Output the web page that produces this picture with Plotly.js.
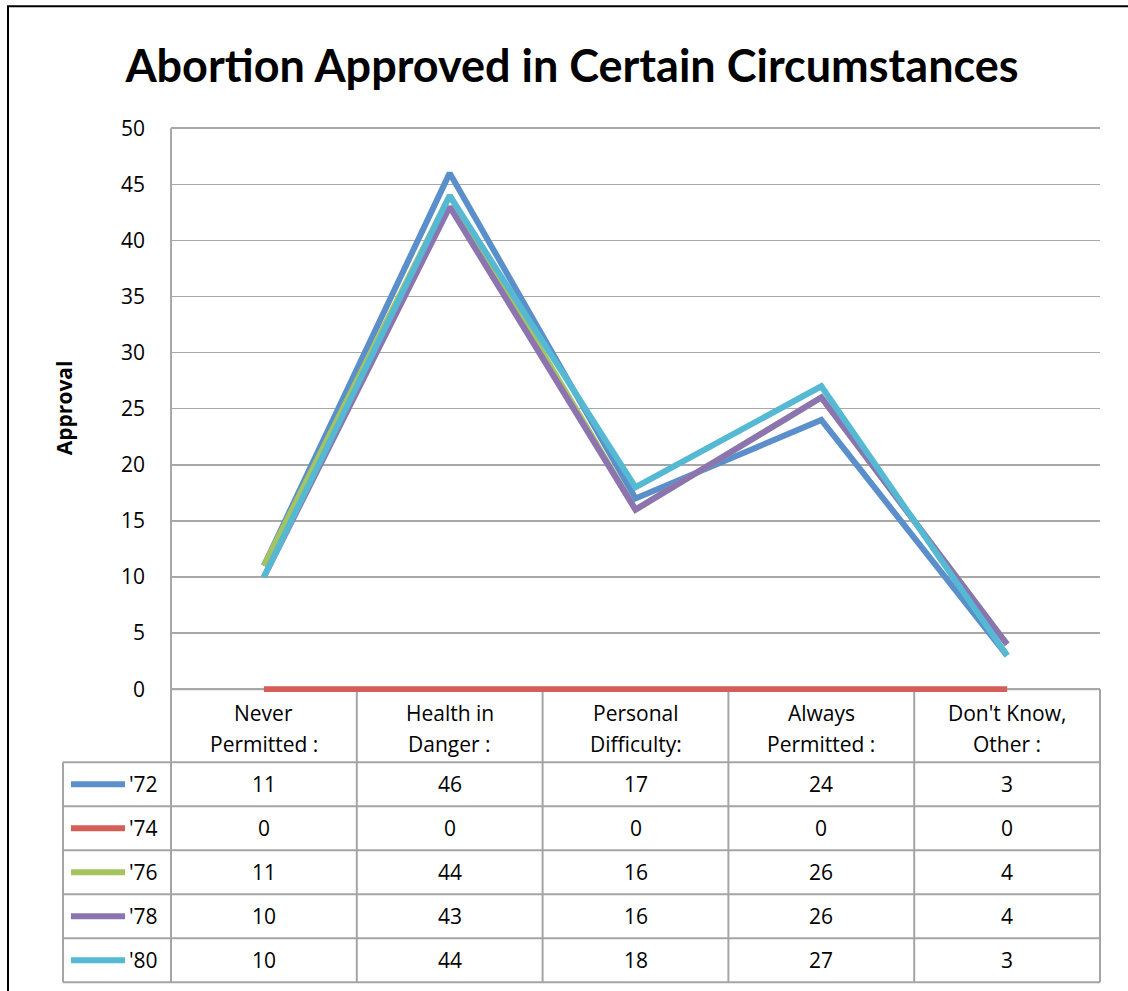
<!DOCTYPE html>
<html>
<head>
<meta charset="utf-8">
<script src="https://cdn.plot.ly/plotly-3.0.1.min.js"></script>
<style>html,body{margin:0;padding:0;background:#fff;}#chart{width:1128px;height:991px;}</style>
</head>
<body>
<div id="chart"></div>
<script>
// ---- data ----
const categories = ["Never Permitted :", "Health in Danger :", "Personal Difficulty:", "Always Permitted :", "Don't Know, Other :"];
const headerLines = [["Never", "Permitted :"], ["Health in", "Danger :"], ["Personal", "Difficulty:"], ["Always", "Permitted :"], ["Don't Know,", "Other :"]];
const seriesNames = ["'72", "'74", "'76", "'78", "'80"];
const y72 = [11, 46, 17, 24, 3];
const y74 = [0, 0, 0, 0, 0];
const y76 = [11, 44, 16, 26, 4];
const y78 = [10, 43, 16, 26, 4];
const y80 = [10, 44, 18, 27, 3];
const yTicks = [0, 5, 10, 15, 20, 25, 30, 35, 40, 45, 50];

// ---- styling ----
const seriesValues = [y72, y74, y76, y78, y80];
const colors = ["#5b8fcb", "#d35f58", "#a5c35f", "#8c74b1", "#55b9d3"];
const TITLEFONT = "Lato, 'Open Sans', sans-serif";
const FONT = "'Open Sans', Lato, sans-serif";
const gridColor = "#a8a8a8";
const tableColor = "#a5a5a5";

const WIDTH = 1128, HEIGHT = 991;
const L = 171, R = 1100, Y50 = 128, Y0 = 689;       // pixel positions of value 50 and 0
const yMin = -0.25, yMax = 50.2;                      // small pad so edge lines are not clipped
const pxPerUnit = (Y0 - Y50) / 50;
const T = Y50 - (yMax - 50) * pxPerUnit;
const B = Y0 + (0 - yMin) * pxPerUnit;
const W = R - L, H = B - T;
const px2x = p => (p - L) / W;
const px2y = p => (B - p) / H;

const traces = seriesValues.map((vals, i) => ({
  type: "scatter", mode: "lines", x: categories, y: vals, name: seriesNames[i],
  line: {color: colors[i], width: 6}, cliponaxis: false, hoverinfo: "skip", showlegend: false
}));

const shapes = [];
const annotations = [];
const n = categories.length;
const headerBottom = 762, rowH = 44, legendLeft = 63;
const tableBottom = headerBottom + rowH * seriesNames.length;

function hline(x0, x1, y) {
  shapes.push({type: "line", xref: "paper", yref: "paper", layer: "below", x0: px2x(x0), x1: px2x(x1), y0: px2y(y), y1: px2y(y), line: {color: tableColor, width: 2}});
}
function vline(x, y0, y1) {
  shapes.push({type: "line", xref: "paper", yref: "paper", layer: "below", x0: px2x(x), x1: px2x(x), y0: px2y(y0), y1: px2y(y1), line: {color: tableColor, width: 2}});
}
for (let c = 0; c <= n; c++) vline(L + W * c / n, Y0, tableBottom);
vline(legendLeft, headerBottom, tableBottom);
hline(L, R, Y0);
for (let r = 0; r <= seriesNames.length; r++) hline(legendLeft, R, headerBottom + r * rowH);

const cellFont = {family: FONT, size: 21, color: "#000"};
headerLines.forEach((lines, c) => {
  const cx = (c + 0.5) / n;
  lines.forEach((t, k) => {
    annotations.push({xref: "paper", yref: "paper", x: cx, y: px2y(713 + k * 31), text: t, showarrow: false,
      xanchor: "center", yanchor: "middle", font: cellFont});
  });
});
seriesNames.forEach((name, r) => {
  const cy = headerBottom + r * rowH + rowH / 2;
  shapes.push({type: "line", xref: "paper", yref: "paper", x0: px2x(71), x1: px2x(125), y0: px2y(cy), y1: px2y(cy), line: {color: colors[r], width: 6}});
  annotations.push({xref: "paper", yref: "paper", x: px2x(127), y: px2y(cy), text: name, showarrow: false,
    xanchor: "left", yanchor: "middle", font: cellFont});
  seriesValues[r].forEach((v, c) => {
    annotations.push({xref: "paper", yref: "paper", x: (c + 0.5) / n, y: px2y(cy), text: String(v), showarrow: false,
      xanchor: "center", yanchor: "middle", font: cellFont});
  });
});
annotations.push({xref: "paper", yref: "paper", x: px2x(64), y: px2y(408), text: "<b>Approval</b>", textangle: -90, showarrow: false,
  xanchor: "center", yanchor: "middle", font: {family: FONT, size: 21, color: "#000"}});
shapes.push({type: "path", xref: "paper", yref: "paper",
  path: `M ${px2x(8)} ${px2y(1000)} L ${px2x(8)} ${px2y(6)} L ${px2x(1140)} ${px2y(6)}`,
  line: {color: "#000", width: 2}});

const layout = {
  width: WIDTH, height: HEIGHT,
  margin: {l: L, r: WIDTH - R, t: T, b: HEIGHT - B, pad: 0},
  paper_bgcolor: "#fff", plot_bgcolor: "#fff",
  title: {text: "<b>Abortion Approved in Certain Circumstances</b>", xref: "container", yref: "container",
    x: 572 / WIDTH, xanchor: "center", y: 1 - 66 / HEIGHT, yanchor: "middle",
    font: {family: TITLEFONT, size: 45, color: "#000"}},
  xaxis: {type: "category", range: [-0.5, n - 0.5], showticklabels: false, showgrid: false, zeroline: false,
    showline: false, ticks: "", fixedrange: true},
  yaxis: {range: [yMin, yMax], tickvals: yTicks, showgrid: true, gridcolor: gridColor, gridwidth: 1.5,
    zeroline: false, showline: false, ticks: "", ticklabelstandoff: 25,
    tickfont: {family: FONT, size: 21, color: "#000"}, fixedrange: true},
  shapes: shapes, annotations: annotations, showlegend: false
};
// left axis line of the plot area, from 50 down to 0
shapes.push({type: "line", xref: "paper", yref: "paper", layer: "below", x0: 0, x1: 0, y0: px2y(Y50), y1: px2y(Y0), line: {color: gridColor, width: 2}});

Plotly.newPlot("chart", traces, layout, {displayModeBar: false, staticPlot: true});
</script>
</body>
</html>
